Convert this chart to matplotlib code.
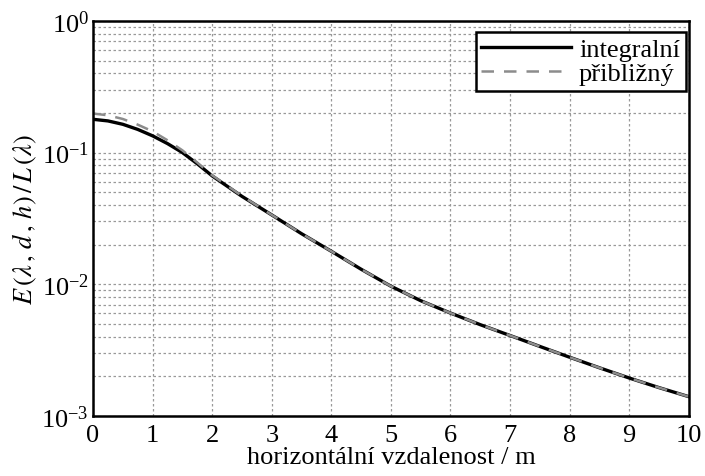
import numpy as np
import matplotlib.pyplot as plt
from matplotlib.ticker import LogLocator, FixedLocator

plt.rcParams['font.family'] = ['Liberation Serif', 'DejaVu Serif']
plt.rcParams['mathtext.fontset'] = 'stix'

# hodnoty
vzdalenost = [0, 0.25, 0.5, 0.75, 1, 1.25, 1.5, 1.75, 2, 2.5, 3, 3.5, 4, 4.5,
              5, 5.5, 6, 6.5, 7, 7.5, 8, 8.5, 9, 9.5, 10]
integralni = [0.179, 0.174, 0.164, 0.150, 0.134, 0.117, 0.100, 0.0822, 0.0665,
              0.0465, 0.0336, 0.0242, 0.0178, 0.0130, 0.00966, 0.0075, 0.00604,
              0.00493, 0.00408, 0.00337, 0.00279, 0.00232, 0.00194, 0.00164, 0.00140]
priblizny = [0.198, 0.192, 0.180, 0.163, 0.145, 0.124, 0.104, 0.084, 0.0672,
             0.0468, 0.0336, 0.0242, 0.0178, 0.0130, 0.00966, 0.0075, 0.00604,
             0.00493, 0.00408, 0.00337, 0.00279, 0.00232, 0.00194, 0.00164, 0.00140]

fig = plt.figure(figsize=(7.05, 4.77), dpi=100)
ax = fig.add_axes([0.132, 0.126, 0.845, 0.828])

ax.plot(vzdalenost, integralni, color='black', lw=2.4, label='integralní')
ax.plot(vzdalenost, priblizny, color='#8c8c8c', lw=1.8, ls=(0, (5, 4)), label='přibližný')

ax.set_yscale('log')
ax.set_xlim(0, 10)
ax.set_ylim(1e-3, 1)
ax.xaxis.set_major_locator(FixedLocator(range(0, 11)))
ax.yaxis.set_major_locator(LogLocator(base=10, numticks=10))
ax.yaxis.set_minor_locator(LogLocator(base=10, subs=np.arange(2, 10), numticks=10))
ax.yaxis.set_major_formatter(plt.FuncFormatter(lambda v, p: r'$\mathregular{10^{%d}}$' % round(np.log10(v))))

ax.grid(True, which='major', color='#999999', ls=(0, (2, 2)), lw=0.9)
ax.grid(True, which='minor', axis='y', color='#999999', ls=(0, (2, 2)), lw=0.9)
ax.tick_params(which='both', length=0, labelsize=19)
ax.tick_params(axis='x', pad=6)
ax.tick_params(axis='y', pad=3)

for s in ax.spines.values():
    s.set_linewidth(1.8)

ax.set_xlabel('horizontální vzdalenost / m', fontsize=19, labelpad=0)
ax.set_ylabel(r'$E\,(\lambda\,,\,d\,,\,h)\,/\,L\,(\lambda)$', fontsize=19, labelpad=2)

leg = ax.legend(loc='upper right', bbox_to_anchor=(0.995, 0.972), fontsize=19,
                handlelength=3.4, fancybox=False, framealpha=1, edgecolor='black',
                borderaxespad=0, borderpad=0.22, labelspacing=0.0, handletextpad=0.3)
leg.get_frame().set_linewidth(1.8)

plt.savefig('out.png', dpi=100)
